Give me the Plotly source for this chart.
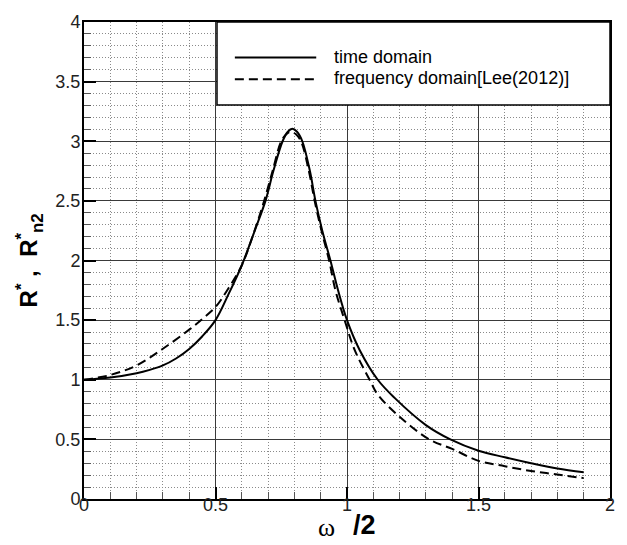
import plotly.graph_objects as go

# ---- data ----
x_time = [0, 0.1, 0.2, 0.25, 0.3, 0.35, 0.4, 0.45, 0.5, 0.55, 0.6, 0.65, 0.69, 0.72, 0.755, 0.775,
          0.792, 0.81, 0.83, 0.859, 0.88, 0.906, 0.937, 0.966, 1.0, 1.048, 1.117, 1.18, 1.3,
          1.393, 1.5, 1.6, 1.7, 1.8, 1.9]
y_time = [1.0, 1.019, 1.055, 1.083, 1.12, 1.178, 1.258, 1.365, 1.5, 1.72, 1.96, 2.255, 2.5, 2.75, 3.0, 3.08,
          3.105, 3.08, 3.0, 2.75, 2.5, 2.25, 2.0, 1.75, 1.5, 1.25, 1.0, 0.85, 0.62,
          0.5, 0.405, 0.35, 0.30, 0.255, 0.224]

x_freq = [0, 0.1, 0.2, 0.3, 0.4, 0.45, 0.5, 0.55, 0.6, 0.65, 0.685, 0.717, 0.75, 0.77, 0.787, 0.805,
          0.825, 0.855, 0.877, 0.903, 0.932, 0.956, 0.991, 1.029, 1.086, 1.117, 1.2, 1.313,
          1.4, 1.5, 1.6, 1.7, 1.8, 1.9]
y_freq = [1.0, 1.04, 1.12, 1.26, 1.42, 1.51, 1.61, 1.77, 1.96, 2.26, 2.5, 2.75, 3.0, 3.06, 3.08, 3.06,
          3.0, 2.75, 2.5, 2.25, 2.0, 1.75, 1.5, 1.25, 1.0, 0.875, 0.69, 0.5,
          0.42, 0.32, 0.275, 0.235, 0.205, 0.175]

series_names = ["time domain", "frequency domain[Lee(2012)]"]
x_ticks = [0, 0.5, 1, 1.5, 2]
x_ticklabels = ["0", "0.5", "1", "1.5", "2"]
y_ticks = [0, 0.5, 1, 1.5, 2, 2.5, 3, 3.5, 4]
y_ticklabels = ["0", "0.5", "1", "1.5", "2", "2.5", "3", "3.5", "4"]

FONT = "Liberation Sans, Arial, sans-serif"

fig = go.Figure()
fig.add_trace(go.Scatter(x=x_time, y=y_time, mode="lines", name=series_names[0],
                         line=dict(color="black", width=2, shape="spline", smoothing=1.0),
                         showlegend=False))
fig.add_trace(go.Scatter(x=x_freq, y=y_freq, mode="lines", name=series_names[1],
                         line=dict(color="black", width=2, dash="9px,5px", shape="spline", smoothing=1.0),
                         showlegend=False))

axis_common = dict(
    showline=True, linecolor="black", linewidth=2, mirror=True,
    ticks="inside", ticklen=12, tickwidth=2, tickcolor="black",
    showgrid=True, gridcolor="#3a3a3a", gridwidth=1, zeroline=False,
    tickfont=dict(family=FONT, size=18, color="#222"),
    tickmode="array",
)
minor_common = dict(dtick=0.1, ticks="inside", ticklen=7, tickwidth=1, tickcolor="#555",
                    showgrid=True, gridcolor="#8a8a8a", griddash="1px,2px", gridwidth=1)

fig.update_xaxes(range=[0, 2], tickvals=x_ticks, ticktext=x_ticklabels,
                 minor=minor_common, ticklabelstandoff=-12, **axis_common)
fig.update_yaxes(range=[0, 4], tickvals=y_ticks, ticktext=y_ticklabels,
                 minor=minor_common, ticklabelstandoff=-2, **axis_common)

# ---- custom legend box ----
W, H = 627, 545
L, R, T, B = 84, 13, 16, 46
pw, ph = W - L - R, H - T - B
def px(xp):
    return (xp - L) / pw
def py(yp):
    return (H - B - yp) / ph

shapes = [
    dict(type="rect", xref="paper", yref="paper", x0=px(218), x1=1.0, y0=py(100), y1=1.0,
         fillcolor="white", line=dict(color="black", width=1.5), layer="above"),
    dict(type="line", xref="paper", yref="paper", x0=px(236), x1=px(318), y0=py(52), y1=py(52),
         line=dict(color="black", width=2), layer="above"),
    dict(type="line", xref="paper", yref="paper", x0=px(236), x1=px(318), y0=py(74), y1=py(74),
         line=dict(color="black", width=2, dash="9px,5px"), layer="above"),
]
annotations = [
    dict(xref="paper", yref="paper", x=px(334), y=py(51), text=series_names[0], showarrow=False,
         xanchor="left", yanchor="middle", font=dict(family=FONT, size=18, color="black")),
    dict(xref="paper", yref="paper", x=px(334), y=py(73), text=series_names[1], showarrow=False,
         xanchor="left", yanchor="middle", font=dict(family=FONT, size=18, color="black")),
    # x axis title: "ω / 2"
    dict(xref="paper", yref="paper", x=px(328), y=py(528), showarrow=False, xanchor="center",
         yanchor="middle", text="ω",
         font=dict(family="Liberation Serif, Times New Roman, serif", size=26, color="black")),
    dict(xref="paper", yref="paper", x=px(367), y=py(525), showarrow=False, xanchor="center",
         yanchor="middle", text="<b>/2</b>",
         font=dict(family=FONT, size=27, color="black")),
    # y axis title
    dict(xref="paper", yref="paper", x=px(29), y=py(257), showarrow=False, xanchor="center", yanchor="middle",
         textangle=-90,
         text="<b>R<sup>*</sup> ,  R<sup>*</sup><sub>n2</sub></b>",
         font=dict(family=FONT, size=24, color="black")),
]

fig.update_layout(
    width=W, height=H,
    margin=dict(l=L, r=R, t=T, b=B, pad=0),
    paper_bgcolor="white", plot_bgcolor="white",
    shapes=shapes, annotations=annotations,
    showlegend=False,
)

fig.write_html("out.html")
